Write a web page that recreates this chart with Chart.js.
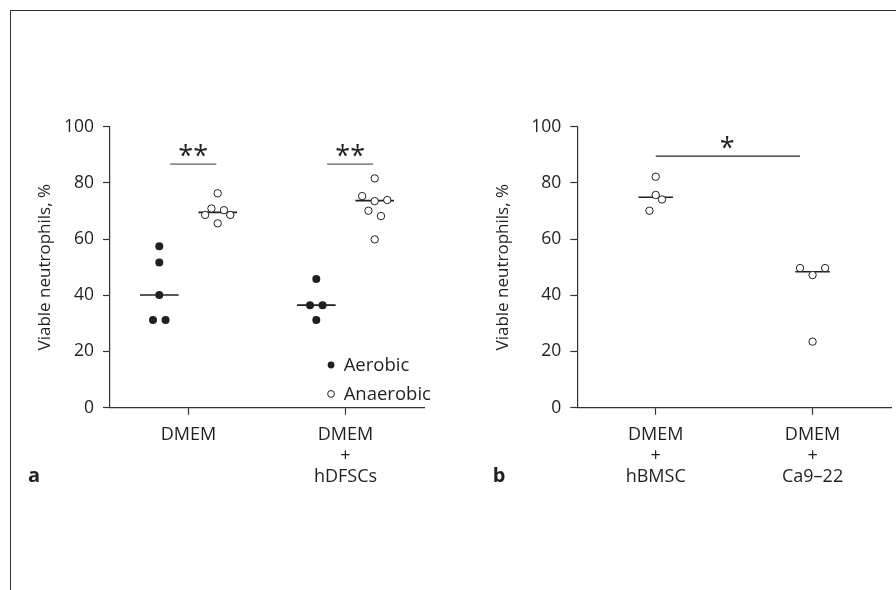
<!DOCTYPE html>
<html>
<head>
<meta charset="utf-8">
<script src="https://cdn.jsdelivr.net/npm/chart.js@4.4.1/dist/chart.umd.min.js"></script>
<style>
  html, body { margin: 0; padding: 0; background: #fff; }
  #page { position: relative; width: 896px; height: 590px; overflow: hidden; }
  #frame { position: absolute; left: 10px; top: 10px; width: 900px; height: 600px;
           border-top: 1.3px solid #333; border-left: 1.3px solid #333; }
  canvas { position: absolute; top: 0; }
  #chartA { left: 0; }
  #chartB { left: 448px; }
</style>
</head>
<body>
<div id="page">
  <div id="frame"></div>
  <canvas id="chartA" width="448" height="590"></canvas>
  <canvas id="chartB" width="448" height="590"></canvas>
</div>
<script>
// ---- data ----
const categoriesA = [['DMEM'], ['DMEM', '+', 'hDFSCs']];
const categoriesB = [['DMEM', '+', 'hBMSC'], ['DMEM', '+', 'Ca9\u201322']];
const yTicks = [0, 20, 40, 60, 80, 100];

// panel a: viable neutrophils, %
const aerobicDmem = [57.5, 51.7, 40.1, 31.2, 31.2];
const aerobicHdfsc = [45.8, 36.5, 36.5, 31.2];
const anaerobicDmem = [76.3, 70.9, 70.3, 68.6, 68.6, 65.6];
const anaerobicHdfsc = [81.6, 75.3, 73.5, 73.9, 70.1, 68.2, 59.9];
const aerobicMedians = [40.1, 36.5];
const anaerobicMedians = [69.5, 73.7];
const sigLabelsA = ['**', '**'];
const sigLevelsA = [86.7, 86.7];

// panel b
const hbmsc = [82.2, 75.7, 74.1, 70.1];
const ca922 = [49.7, 47.2, 49.7, 23.5];
const mediansB = [74.9, 48.4];
const sigLabelB = '*';
const sigLevelB = 89.5;

// ---- layout of the dot swarms (slot = one marker width sideways) ----
const slotsAerobicDmem = [0, 0, 0, -1, 1];
const slotsAerobicHdfsc = [0, -1, 1, 0];
const slotsAnaerobicDmem = [0, -1, 1, -2, 2, 0];
const slotsAnaerobicHdfsc = [0, -2, 0, 2, -1, 1, 0];
const slotsHbmsc = [0, 0, 1, -1];
const slotsCa922 = [-2, 0, 2, 0];

const SLOT = 0.04;        // category units per slot
const GROUP_SHIFT = 0.186; // aerobic left / anaerobic right of the tick
const MEDIAN_HALF = 0.123;
const INK = '#231f20';
const FONT = "'Open Sans', sans-serif";

function swarm(values, slots, center) {
  return values.map((v, i) => ({ x: center + slots[i] * SLOT, y: v }));
}

function segment(x0, x1, y) {
  return [{ x: x0, y: y }, { x: x1, y: y }];
}

function lineSet(data, color, width) {
  return {
    type: 'line', data: data, borderColor: color, borderWidth: width,
    pointRadius: 0, fill: false, showLine: true, order: 1
  };
}

const filledDot = {
  type: 'scatter', pointRadius: 4, pointBackgroundColor: INK,
  pointBorderColor: INK, pointBorderWidth: 0, order: 0
};
const openDot = {
  type: 'scatter', pointRadius: 3.7, pointBackgroundColor: '#fff',
  pointBorderColor: INK, pointBorderWidth: 1, order: 0
};

function xScale(labels, height) {
  return {
    type: 'linear', min: -0.5, max: 1.5,
    afterBuildTicks: s => { s.ticks = labels.map((_, i) => ({ value: i })); },
    afterFit: s => { s.height = height; },
    ticks: {
      callback: v => labels[v], color: INK, autoSkip: false, maxRotation: 0,
      padding: 10, font: { family: FONT, size: 18, lineHeight: 1.17 }
    },
    grid: { drawOnChartArea: false, drawTicks: true, tickLength: 7, color: '#333', tickWidth: 1.2 },
    border: { display: true, color: '#333', width: 1.2 }
  };
}

function yScale(width, titlePad) {
  return {
    type: 'linear', min: 0, max: 100,
    afterBuildTicks: s => { s.ticks = yTicks.map(v => ({ value: v })); },
    afterFit: s => { s.width = width; },
    ticks: { color: INK, padding: 9, font: { family: FONT, size: 17.5 } },
    grid: { drawOnChartArea: false, drawTicks: true, tickLength: 7, color: '#333', tickWidth: 1.2 },
    border: { display: true, color: '#333', width: 1.2 },
    title: {
      display: true, text: 'Viable neutrophils, %', color: INK,
      font: { family: FONT, size: 17 }, padding: { top: titlePad, bottom: 0 }
    }
  };
}

// draws asterisks, panel letter and (panel a) the key
function notesPlugin(opts) {
  return {
    id: 'notes',
    afterDatasetsDraw(chart) {
      const { ctx, scales: { x, y } } = chart;
      ctx.save();
      ctx.fillStyle = INK;
      ctx.textAlign = 'center';
      ctx.textBaseline = 'alphabetic';
      ctx.font = '27px ' + FONT;
      opts.stars.forEach(s => {
        const m = ctx.measureText(s.text);
        const py = y.getPixelForValue(s.y);
        ctx.fillText(s.text, x.getPixelForValue(s.x), py + (m.actualBoundingBoxAscent - m.actualBoundingBoxDescent) / 2);
      });
      ctx.font = 'bold 20px ' + FONT;
      ctx.textAlign = 'left';
      ctx.fillText(opts.letter.text, opts.letter.px, 481.7);
      if (opts.key) {
        ctx.font = '18.5px ' + FONT;
        opts.key.forEach(k => {
          const kx = x.getPixelForValue(0.908);
          const ky = y.getPixelForValue(k.y);
          ctx.beginPath();
          ctx.arc(kx, ky, 3.4, 0, Math.PI * 2);
          if (k.filled) { ctx.fillStyle = INK; ctx.fill(); }
          else { ctx.strokeStyle = INK; ctx.lineWidth = 1; ctx.stroke(); }
          ctx.fillStyle = INK;
          ctx.fillText(k.label, kx + 12.6, ky + 6.5);
        });
      }
      ctx.restore();
    }
  };
}

// ---- panel a ----
const datasetsA = [
  Object.assign({ label: 'Aerobic', data: swarm(aerobicDmem, slotsAerobicDmem, -GROUP_SHIFT).concat(swarm(aerobicHdfsc, slotsAerobicHdfsc, 1 - GROUP_SHIFT)) }, filledDot),
  Object.assign({ label: 'Anaerobic', data: swarm(anaerobicDmem, slotsAnaerobicDmem, GROUP_SHIFT).concat(swarm(anaerobicHdfsc, slotsAnaerobicHdfsc, 1 + GROUP_SHIFT)) }, openDot)
];
aerobicMedians.forEach((m, i) => {
  datasetsA.push(lineSet(segment(i - GROUP_SHIFT - MEDIAN_HALF, i - GROUP_SHIFT + MEDIAN_HALF, m), INK, 1.6));
});
anaerobicMedians.forEach((m, i) => {
  datasetsA.push(lineSet(segment(i + GROUP_SHIFT - MEDIAN_HALF, i + GROUP_SHIFT + MEDIAN_HALF, m), INK, 1.6));
});
sigLevelsA.forEach((lv, i) => {
  datasetsA.push(lineSet(segment(i - 0.117, i + 0.177, lv), '#8c8c8c', 1.8));
});

new Chart(document.getElementById('chartA'), {
  type: 'scatter',
  data: { datasets: datasetsA },
  options: {
    responsive: false, animation: false, events: [],
    layout: { padding: { top: 126.7, right: 24, left: 0, bottom: 0 } },
    plugins: { legend: { display: false }, tooltip: { enabled: false } },
    scales: { x: xScale(categoriesA, 590 - 407.7), y: yScale(110, 34.8) }
  },
  plugins: [notesPlugin({
    stars: sigLabelsA.map((t, i) => ({ text: t, x: i + 0.03, y: sigLevelsA[i] + 5 })),
    letter: { text: 'a', px: 28 },
    key: [
      { label: 'Aerobic', y: 15.2, filled: true },
      { label: 'Anaerobic', y: 4.9, filled: false }
    ]
  })]
});

// ---- panel b ----
const datasetsB = [
  Object.assign({ label: 'hBMSC', data: swarm(hbmsc, slotsHbmsc, 0) }, openDot),
  Object.assign({ label: 'Ca9-22', data: swarm(ca922, slotsCa922, 1) }, openDot)
];
mediansB.forEach((m, i) => {
  datasetsB.push(lineSet(segment(i - 0.11, i + 0.11, m), INK, 1.6));
});
datasetsB.push(lineSet(segment(0, 0.92, sigLevelB), INK, 1.3));

new Chart(document.getElementById('chartB'), {
  type: 'scatter',
  data: { datasets: datasetsB },
  options: {
    responsive: false, animation: false, events: [],
    layout: { padding: { top: 126.7, right: 5, left: 0, bottom: 0 } },
    plugins: { legend: { display: false }, tooltip: { enabled: false } },
    scales: { x: xScale(categoriesB, 590 - 407.7), y: yScale(129.3, 45.1) }
  },
  plugins: [notesPlugin({
    stars: [{ text: sigLabelB, x: 0.455, y: sigLevelB + 5 }],
    letter: { text: 'b', px: 44.7 }
  })]
});
</script>
</body>
</html>
